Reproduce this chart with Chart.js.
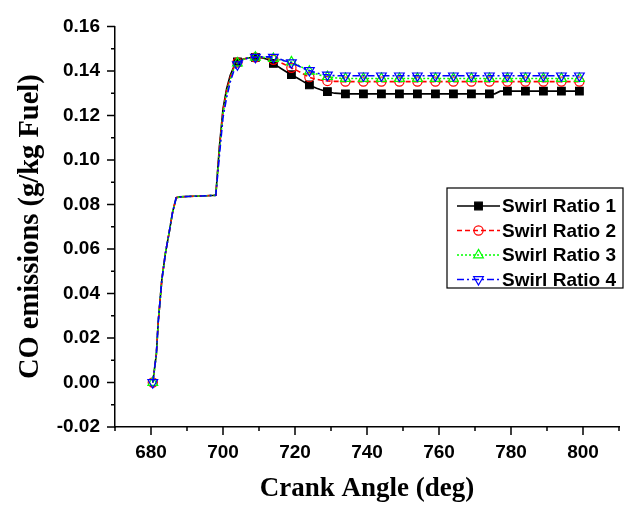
<!DOCTYPE html>
<html>
<head>
<meta charset="utf-8">
<script src="https://cdn.jsdelivr.net/npm/chart.js@4.4.1/dist/chart.umd.min.js"></script>
<style>
  html, body { margin: 0; padding: 0; background: #fff; }
  #wrap { width: 633px; height: 505px; }
</style>
</head>
<body>
<div id="wrap"><canvas id="co" width="633" height="505"></canvas></div>
<script>
// ─── Data ────────────────────────────────────────────────────────────────────
const crankAngle = [
    680.5, 681.5, 682, 683, 684, 685, 686, 687, 688, 690, 694, 698,
    699, 700, 701, 702, 703, 704, 705, 706, 707, 708, 709, 710, 711, 712, 713,
    714, 715, 716, 717, 718, 719, 720, 721, 722, 723, 724, 725, 726, 727, 728,
    729, 730, 731, 732, 733, 734, 739, 744, 749, 754, 759, 764, 769, 774,
    775.5, 777, 779, 784, 789, 794, 799,
];

const swirl1 = [
    0.000, 0.013, 0.027, 0.046, 0.058, 0.067, 0.0765, 0.0830, 0.0834, 0.0836, 0.0838, 0.0841,
    0.106, 0.123, 0.132, 0.138, 0.1418, 0.1440, 0.1450, 0.1455, 0.1458, 0.1460, 0.1461, 0.1460, 0.1458, 0.1454, 0.1445,
    0.1434, 0.1423, 0.1412, 0.1402, 0.1392, 0.1383, 0.1374, 0.1365, 0.1355, 0.1346, 0.1337, 0.1329, 0.1322, 0.1316, 0.1311,
    0.1307, 0.1303, 0.1300, 0.1299, 0.1298, 0.1297, 0.1297, 0.1297, 0.1297, 0.1297, 0.1297, 0.1297, 0.1297, 0.1297,
    0.1297, 0.1309, 0.1309, 0.1309, 0.1309, 0.1309, 0.1309,
];

const swirl2 = [
    0.000, 0.013, 0.027, 0.046, 0.058, 0.067, 0.0765, 0.0830, 0.0834, 0.0836, 0.0838, 0.0841,
    0.105, 0.122, 0.131, 0.137, 0.1415, 0.1438, 0.1449, 0.1455, 0.1458, 0.1460, 0.1461, 0.1461, 0.1460, 0.1458, 0.1455,
    0.1450, 0.1444, 0.1437, 0.1430, 0.1422, 0.1414, 0.1406, 0.1398, 0.1389, 0.1380, 0.1372, 0.1366, 0.1362, 0.1359, 0.1357,
    0.1355, 0.1354, 0.1353, 0.1353, 0.1352, 0.1352, 0.1352, 0.1352, 0.1352, 0.1352, 0.1352, 0.1352, 0.1352, 0.1352,
    0.1352, 0.1352, 0.1352, 0.1352, 0.1352, 0.1352, 0.1352,
];

const swirl3 = [
    0.000, 0.013, 0.027, 0.046, 0.058, 0.067, 0.0765, 0.0830, 0.0834, 0.0836, 0.0838, 0.0841,
    0.104, 0.121, 0.130, 0.136, 0.1410, 0.1435, 0.1448, 0.1454, 0.1458, 0.1460, 0.1461, 0.1462, 0.1461, 0.1460, 0.1458,
    0.1455, 0.1452, 0.1449, 0.1446, 0.1443, 0.1440, 0.1433, 0.1425, 0.1416, 0.1406, 0.1398, 0.1391, 0.1386, 0.1381, 0.1377,
    0.1374, 0.1371, 0.1369, 0.1368, 0.1367, 0.1366, 0.1366, 0.1366, 0.1366, 0.1366, 0.1366, 0.1366, 0.1366, 0.1366,
    0.1366, 0.1366, 0.1366, 0.1366, 0.1366, 0.1366, 0.1366,
];

const swirl4 = [
    0.000, 0.013, 0.027, 0.046, 0.058, 0.067, 0.0765, 0.0830, 0.0834, 0.0836, 0.0838, 0.0841,
    0.102, 0.119, 0.128, 0.135, 0.1400, 0.1428, 0.1445, 0.1453, 0.1458, 0.1461, 0.1462, 0.1463, 0.1463, 0.1463, 0.1463,
    0.1462, 0.1458, 0.1452, 0.1446, 0.1441, 0.1437, 0.1430, 0.1422, 0.1414, 0.1407, 0.1402, 0.1396, 0.1391, 0.1387, 0.1384,
    0.1382, 0.1380, 0.1379, 0.1378, 0.1378, 0.1378, 0.1378, 0.1378, 0.1378, 0.1378, 0.1378, 0.1378, 0.1378, 0.1378,
    0.1378, 0.1378, 0.1378, 0.1378, 0.1378, 0.1378, 0.1378,
];

const seriesLabels = ["Swirl Ratio 1", "Swirl Ratio 2", "Swirl Ratio 3", "Swirl Ratio 4"];
const xTickLabels = [680, 700, 720, 740, 760, 780, 800];
const yTickLabels = [-0.02, 0.00, 0.02, 0.04, 0.06, 0.08, 0.10, 0.12, 0.14, 0.16];

// ─── Styling ─────────────────────────────────────────────────────────────────
const TICK_FONT    = { family: "'Liberation Sans', Arial, sans-serif", size: 19, weight: "bold" };
const X_TITLE_FONT = { family: "'Liberation Serif', 'Times New Roman', serif", size: 27, weight: "bold", lineHeight: 1.2 };
const Y_TITLE_FONT = { family: "'Liberation Serif', 'Times New Roman', serif", size: 28.5, weight: "bold", lineHeight: 1.2 };

const STYLES = [
    { color: "#000000", dash: [],           marker: "rect",     radius: 5.4, rot: 0,   fill: "#000000",      skipFirst: true  },
    { color: "#ff0000", dash: [5, 3],       marker: "circle",   radius: 4.6, rot: 0,   fill: "rgba(0,0,0,0)", skipFirst: false },
    { color: "#00ff00", dash: [2, 2],       marker: "triangle", radius: 5.6, rot: 0,   fill: "rgba(0,0,0,0)", skipFirst: false },
    { color: "#0000ff", dash: [7, 3, 2, 3], marker: "triangle", radius: 5.6, rot: 180, fill: "rgba(0,0,0,0)", skipFirst: false },
];

// markers only on every fifth degree of the plateau part (plus the start point)
function hasMarker(i, st) {
    const a = crankAngle[i];
    if (i === 0) return !st.skipFirst;
    return a >= 704 && Number.isInteger(a) && (a - 704) % 5 === 0;
}

const allSeries = [swirl1, swirl2, swirl3, swirl4];

const datasets = allSeries.map((vals, k) => {
    const st = STYLES[k];
    return {
        label: seriesLabels[k],
        data: crankAngle.map((a, i) => ({ x: a, y: vals[i] })),
        borderColor: st.color,
        borderWidth: 1.6,
        borderDash: st.dash,
        pointStyle: st.marker,
        pointRotation: st.rot,
        pointBorderColor: st.color,
        pointBackgroundColor: st.fill,
        pointBorderWidth: 1.2,
        pointRadius: ctx => hasMarker(ctx.dataIndex, st) ? st.radius : 0,
        pointHoverRadius: 0,
        tension: 0,
        order: 4 - k,
    };
});

// ─── Plugins: tick marks (major/minor) and the boxed legend ──────────────────
const isMajorX = v => Math.round(v) % 20 === 0;
const isMajorY = v => Math.round(v * 100) % 2 === 0;

const axisTicks = {
    id: "axisTicks",
    afterDraw(chart) {
        const { ctx } = chart;
        const xs = chart.scales.x, ys = chart.scales.y;
        ctx.save();
        ctx.strokeStyle = "#000";
        ctx.lineWidth = 1.5;
        ctx.beginPath();
        xs.ticks.forEach(t => {
            const px = xs.getPixelForValue(t.value);
            const len = isMajorX(t.value) ? 8 : 4;
            ctx.moveTo(px, xs.top);
            ctx.lineTo(px, xs.top + len);
        });
        ys.ticks.forEach(t => {
            const py = ys.getPixelForValue(t.value);
            const len = isMajorY(t.value) ? 8 : 4;
            ctx.moveTo(ys.right, py);
            ctx.lineTo(ys.right - len, py);
        });
        ctx.stroke();
        ctx.restore();
    },
};

const LEGEND_BOX = { left: 447, top: 188, right: 623, bottom: 288 };
const LEGEND_ROWS = [206, 230.5, 255, 279.5];

function drawMarker(ctx, st, x, y) {
    ctx.save();
    ctx.strokeStyle = st.color;
    ctx.fillStyle = st.fill;
    ctx.lineWidth = 1.2;
    ctx.setLineDash([]);
    ctx.beginPath();
    if (st.marker === "rect") {
        const h = st.radius * Math.SQRT1_2;
        ctx.rect(x - h, y - h, 2 * h, 2 * h);
    } else if (st.marker === "circle") {
        ctx.arc(x, y, st.radius, 0, Math.PI * 2);
    } else {
        let rad = st.rot * Math.PI / 180;
        for (let i = 0; i < 3; i++) {
            const px = x + Math.sin(rad) * st.radius;
            const py = y - Math.cos(rad) * st.radius;
            if (i === 0) ctx.moveTo(px, py); else ctx.lineTo(px, py);
            rad += 2 * Math.PI / 3;
        }
        ctx.closePath();
    }
    ctx.fill();
    ctx.stroke();
    ctx.restore();
}

const boxLegend = {
    id: "boxLegend",
    afterDraw(chart) {
        const { ctx } = chart;
        const b = LEGEND_BOX;
        ctx.save();
        ctx.fillStyle = "#fff";
        ctx.fillRect(b.left, b.top, b.right - b.left, b.bottom - b.top);
        ctx.strokeStyle = "#000";
        ctx.lineWidth = 1.2;
        ctx.strokeRect(b.left, b.top, b.right - b.left, b.bottom - b.top);

        seriesLabels.forEach((label, k) => {
            const st = STYLES[k];
            const y = LEGEND_ROWS[k];
            ctx.save();
            ctx.strokeStyle = st.color;
            ctx.lineWidth = 1.5;
            ctx.setLineDash(st.dash);
            ctx.beginPath();
            ctx.moveTo(457, y);
            ctx.lineTo(500, y);
            ctx.stroke();
            ctx.restore();
            drawMarker(ctx, st, 478.5, y);

            ctx.fillStyle = "#000";
            ctx.font = `bold ${TICK_FONT.size}px ${TICK_FONT.family}`;
            ctx.textAlign = "left";
            ctx.textBaseline = "middle";
            ctx.fillText(label, 502, y + 1);
        });
        ctx.restore();
    },
};

const whiteBg = {
    id: "whiteBg",
    beforeDraw(chart) {
        const { ctx, width, height } = chart;
        ctx.save();
        ctx.fillStyle = "#fff";
        ctx.fillRect(0, 0, width, height);
        ctx.restore();
    },
};

// ─── Chart ───────────────────────────────────────────────────────────────────
new Chart(document.getElementById("co"), {
    type: "line",
    data: { datasets },
    options: {
        responsive: false,
        devicePixelRatio: 1,
        animation: false,
        events: [],
        layout: { padding: { left: 0, right: 6, top: 19, bottom: 0 } },
        plugins: {
            legend: { display: false },
            tooltip: { enabled: false },
        },
        scales: {
            x: {
                type: "linear",
                min: 670,
                max: 810,
                afterFit: s => { s.height = 78; },
                grid: { display: false, drawTicks: false },
                border: { display: true, color: "#000", width: 1.5 },
                ticks: {
                    stepSize: 10,
                    autoSkip: false,
                    maxRotation: 0,
                    padding: 14,
                    color: "#000",
                    font: TICK_FONT,
                    callback: v => xTickLabels.includes(Math.round(v)) ? String(Math.round(v)) : "",
                },
                title: {
                    display: true,
                    text: "Crank Angle (deg)",
                    color: "#000",
                    font: X_TITLE_FONT,
                    padding: { top: 0, bottom: 0 },
                },
            },
            y: {
                type: "linear",
                min: -0.02,
                max: 0.16,
                afterFit: s => { s.width = 115; },
                grid: { display: false, drawTicks: false },
                border: { display: true, color: "#000", width: 1.5 },
                ticks: {
                    stepSize: 0.01,
                    autoSkip: false,
                    padding: 15,
                    color: "#000",
                    font: TICK_FONT,
                    callback: v => {
                        const r = Math.round(v * 100) / 100;
                        return yTickLabels.some(t => Math.abs(t - r) < 1e-9) ? r.toFixed(2) : "";
                    },
                },
                title: {
                    display: true,
                    text: "CO emissions (g/kg Fuel)",
                    color: "#000",
                    font: Y_TITLE_FONT,
                    padding: { top: 14, bottom: 0 },
                },
            },
        },
    },
    plugins: [whiteBg, axisTicks, boxLegend],
});
</script>
</body>
</html>
